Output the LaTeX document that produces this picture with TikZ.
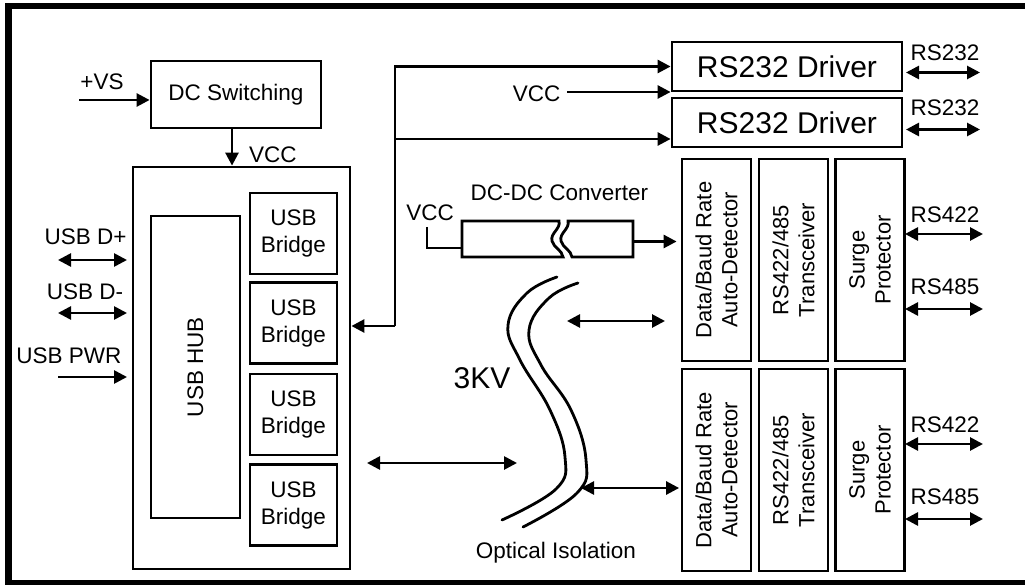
\documentclass[tikz,border=0pt]{standalone}
\usepackage{fontspec}
\setmainfont{Liberation Sans}
\usetikzlibrary{arrows.meta}
\tikzset{
  box/.style={draw, line width=2.8pt, inner sep=0pt, align=center,
    font=\fontsize{22.5pt}{27pt}\selectfont},
  vbox/.style={box, rotate=90, minimum width=202pt, minimum height=69pt,
    font=\fontsize{22pt}{26pt}\selectfont},
  bridge/.style={box, minimum width=87pt, minimum height=81pt},
  bigtxt/.style={font=\fontsize{30pt}{33pt}\selectfont},
  lbl/.style={inner sep=0pt, font=\fontsize{22.5pt}{27pt}\selectfont},
  arr/.style={line width=2.7pt, -{Triangle[length=13pt,width=13pt]}},
  darr/.style={line width=2.7pt, {Triangle[length=13pt,width=13pt]}-{Triangle[length=13pt,width=13pt]}},
  wire/.style={line width=2.7pt},
  iso/.style={line width=2.8pt, line cap=round}
}
\begin{document}
\begin{tikzpicture}[x=1pt,y=-1pt]
\useasboundingbox (0,0) rectangle (1025,585);
\fill[white] (0,0) rectangle (1025,585);
% outer frame (right side is cut off)
\draw[line width=6.5pt] (1035,583.5) -- (8.5,583.5) -- (8.5,6) -- (1035,6);

% ---- left part ----
\node[box, minimum width=170pt, minimum height=67pt] (dcsw) at (236,94.5) {DC Switching};
\node[box, minimum width=217pt, minimum height=402pt] (usbbox) at (241.5,368) {};
\node[box, line width=2.2pt, rotate=90, minimum width=302pt, minimum height=89pt] (hub) at (195.5,367) {USB HUB};
\node[bridge] (br1) at (293.5,233.5) {USB\\Bridge};
\node[bridge] (br2) at (293.5,323) {USB\\Bridge};
\node[bridge] (br3) at (293.5,414.5) {USB\\Bridge};
\node[bridge] (br4) at (293.5,505) {USB\\Bridge};

\node[lbl] (vs) at (102,82) {+VS};
\coordinate (vsin) at (79,100);
\draw[arr] (vsin) -- (vsin -| dcsw.west);
\coordinate (vcctop) at (232,128);
\draw[arr] (vcctop) -- (vcctop |- usbbox.north);
\node[lbl, anchor=west] (vcc1) at (249,155) {VCC};

\node[lbl] (ldp) at (85.5,237) {USB D+};
\coordinate (dpa) at (58,260); \coordinate (dpb) at (127,260);
\draw[darr] (dpa) -- (dpb);
\node[lbl] (ldm) at (85,292) {USB D-};
\coordinate (dma) at (58,313); \coordinate (dmb) at (127,313);
\draw[darr] (dma) -- (dmb);
\node[lbl] (lpwr) at (69,356) {USB PWR};
\coordinate (pwa) at (58,377); \coordinate (pwb) at (127,377);
\draw[arr] (pwa) -- (pwb);

% ---- RS232 part ----
\node[box, bigtxt, minimum width=230pt, minimum height=49pt] (rs1) at (787,66.5) {RS232 Driver};
\node[box, bigtxt, minimum width=230pt, minimum height=49pt] (rs2) at (787,122.5) {RS232 Driver};
\coordinate (jt) at (395,66.5);
\coordinate (jm) at (395,139);
\coordinate (jb) at (395,326);
\draw[arr, line join=miter] (jb) -- (jt) -- (rs1.west);
\draw[arr] (jm) -- (jm -| rs2.west);
\draw[arr] (jb) -- (jb -| usbbox.east);
\node[lbl] (vcc2) at (536.5,94) {VCC};
\coordinate (vcc2a) at (567,92);
\draw[arr] (vcc2a) -- (vcc2a -| rs1.west);

\node[lbl] (l232a) at (945,53) {RS232};
\coordinate (r1a) at (906,72.5); \coordinate (r1b) at (980,72.5);
\draw[darr] (r1a) -- (r1b);
\node[lbl] (l232b) at (945,108) {RS232};
\coordinate (r2a) at (906,129.5); \coordinate (r2b) at (980,129.5);
\draw[darr] (r2a) -- (r2b);

% ---- RS422/485 channels ----
\node[vbox] (det1) at (716.5,260) {Data/Baud Rate\\Auto-Detector};
\node[vbox] (trx1) at (793.5,260) {RS422/485\\Transceiver};
\node[vbox] (srg1) at (870,260) {Surge\\Protector};
\node[vbox] (det2) at (716.5,470) {Data/Baud Rate\\Auto-Detector};
\node[vbox] (trx2) at (793.5,470) {RS422/485\\Transceiver};
\node[vbox] (srg2) at (870,470) {Surge\\Protector};

\node[lbl] (l422a) at (945,215) {RS422};
\coordinate (a1a) at (905,234); \coordinate (a1b) at (983,234);
\draw[darr] (a1a) -- (a1b);
\node[lbl] (l485a) at (945,287) {RS485};
\coordinate (a2a) at (905,309); \coordinate (a2b) at (983,309);
\draw[darr] (a2a) -- (a2b);
\node[lbl] (l422b) at (945,425) {RS422};
\coordinate (a3a) at (905,444); \coordinate (a3b) at (983,444);
\draw[darr] (a3a) -- (a3b);
\node[lbl] (l485b) at (945,497) {RS485};
\coordinate (a4a) at (905,519); \coordinate (a4b) at (983,519);
\draw[darr] (a4a) -- (a4b);

% ---- DC-DC converter ----
\node[lbl] (lconv) at (559.5,193) {DC-DC Converter};
\node[lbl] (vcc3) at (430,213) {VCC};
\draw[box] (559,221) -- (462,221) -- (462,257) -- (563,257)
  .. controls (562,250) and (554,248) .. (552,241)
  .. controls (550,233) and (561,229) .. (559,221) -- cycle;
\draw[box] (568,221) -- (633,221) -- (633,257) -- (572,257)
  .. controls (571,250) and (563,248) .. (561,241)
  .. controls (559,233) and (570,229) .. (568,221) -- cycle;
\coordinate (convin) at (462,248);
\draw[wire, line join=miter] (427,227) -- (427,248) -- (convin);
\coordinate (convout) at (633,241.5);
\draw[arr] (convout) -- ([xshift=-4pt]convout -| det1.north);

% ---- optical isolation ----
\draw[iso] plot[smooth, tension=0.7] coordinates {(557,277) (527,293) (508,325) (520,360) (550,410) (565,457) (556,489) (502,520)};
\draw[iso] plot[smooth, tension=0.7] coordinates {(578,283) (549,298) (529,330) (541,365) (571,410) (586,460) (577,493) (523,527)};
\node[inner sep=0pt, bigtxt] (kv) at (482,378) {3KV};
\node[lbl] (liso) at (556,553) {Optical Isolation};

\coordinate (m1a) at (567,321); \coordinate (m1b) at (665,321);
\draw[darr] (m1a) -- (m1b);
\coordinate (m2a) at (367,463); \coordinate (m2b) at (517,463);
\draw[darr] (m2a) -- (m2b);
\coordinate (m3a) at (581,488);
\draw[darr] (m3a) -- ([xshift=-1.5pt]m3a -| det2.north);
\end{tikzpicture}
\end{document}
